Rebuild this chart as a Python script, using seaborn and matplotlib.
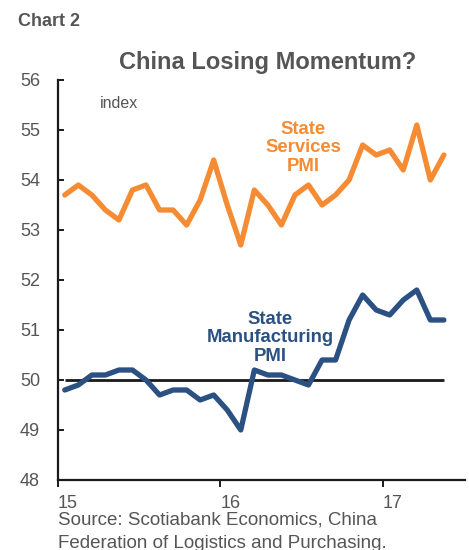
import matplotlib

matplotlib.use("Agg")
import matplotlib.pyplot as plt
import pandas as pd
import seaborn as sns

# China official PMIs, monthly Jan 2015 - May 2017
months = pd.date_range("2015-01-01", periods=29, freq="MS")
services_pmi = [
    53.7, 53.9, 53.7, 53.4, 53.2, 53.8, 53.9, 53.4, 53.4, 53.1, 53.6, 54.4,
    53.5, 52.7, 53.8, 53.5, 53.1, 53.7, 53.9, 53.5, 53.7, 54.0, 54.7, 54.5,
    54.6, 54.2, 55.1, 54.0, 54.5,
]
manufacturing_pmi = [
    49.8, 49.9, 50.1, 50.1, 50.2, 50.2, 50.0, 49.7, 49.8, 49.8, 49.6, 49.7,
    49.4, 49.0, 50.2, 50.1, 50.1, 50.0, 49.9, 50.4, 50.4, 51.2, 51.7, 51.4,
    51.3, 51.6, 51.8, 51.2, 51.2,
]
y_ticks = [48, 49, 50, 51, 52, 53, 54, 55, 56]
x_ticks = [15, 16, 17]
x_tick_labels = ["15", "16", "17"]

ORANGE = "#F58B32"
NAVY = "#2B5082"
GRAY = "#555555"

sns.set_style("white")
plt.rcParams["font.family"] = ["Liberation Sans", "DejaVu Sans"]

# decimal year (two digits), mid-month
x = (months.year - 2000) + (months.month - 0.5) / 12
df = pd.DataFrame({"x": x, "services": services_pmi, "manufacturing": manufacturing_pmi})

W, H = 469, 550
fig = plt.figure(figsize=(W / 100, H / 100), dpi=100)
ax = fig.add_axes([58 / W, 70 / H, 407 / W, 400 / H])

ax.hlines(50, df["x"].iloc[0], df["x"].iloc[-1], color="#1a1a1a", linewidth=2.0, zorder=1)
sns.lineplot(data=df, x="x", y="services", ax=ax, color=ORANGE, linewidth=3.8, zorder=3)
sns.lineplot(data=df, x="x", y="manufacturing", ax=ax, color=NAVY, linewidth=3.8, zorder=3)

ax.set_xlim(15, 17.505)
ax.set_ylim(48, 56)
ax.set_yticks(y_ticks)
ax.set_xticks(x_ticks)
ax.set_xticklabels(x_tick_labels, ha="left")
ax.set_xlabel("")
ax.set_ylabel("")

for side in ["top", "right"]:
    ax.spines[side].set_visible(False)
for side in ["left", "bottom"]:
    ax.spines[side].set_color("#1a1a1a")
    ax.spines[side].set_linewidth(1.6)

ax.tick_params(axis="y", direction="in", length=4, width=1.4, color="#1a1a1a",
               labelsize=13, labelcolor=GRAY, pad=13, left=True)
ax.tick_params(axis="x", direction="out", length=5, width=1.4, color="#1a1a1a",
               labelsize=13, labelcolor=GRAY, pad=6, bottom=True)

fig.text(100 / W, 1 - 103 / H, "index", fontsize=11.5, color=GRAY, va="center")

ax.text(15 + (303 - 58) / 162.5, 56 - (148 - 80) / 50, "State\nServices\nPMI",
        color=ORANGE, fontsize=13.3, fontweight="bold", ha="center", va="center",
        linespacing=1.15)
ax.text(15 + (270 - 58) / 162.5, 56 - (338 - 80) / 50, "State\nManufacturing\nPMI",
        color=NAVY, fontsize=13.3, fontweight="bold", ha="center", va="center",
        linespacing=1.15)

fig.text(18 / W, 1 - 22 / H, "Chart 2", fontsize=13, fontweight="bold", color=GRAY,
         va="center", ha="left", family=["Liberation Sans Narrow", "Liberation Sans"])
fig.text(268 / W, 1 - 63 / H, "China Losing Momentum?", fontsize=17, fontweight="bold",
         color=GRAY, va="center", ha="center")
fig.text(58 / W, 1 - 520 / H, "Source: Scotiabank Economics, China", fontsize=13.5,
         color=GRAY, va="center", ha="left")
fig.text(58 / W, 1 - 543 / H, "Federation of Logistics and Purchasing.", fontsize=13.5,
         color=GRAY, va="center", ha="left")

fig.savefig("out.png", dpi=100)
